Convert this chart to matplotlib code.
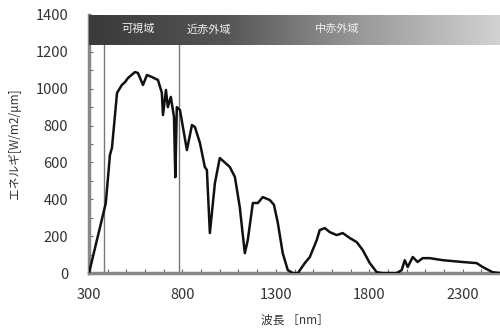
import numpy as np
import matplotlib
matplotlib.use("Agg")
import matplotlib.pyplot as plt
from matplotlib.ticker import MultipleLocator

plt.rcParams['font.family'] = ['Noto Sans CJK JP', 'DejaVu Sans']

# --- Data ---
wavelength = [300, 390, 412, 423, 450, 476, 493, 509, 546, 562, 589, 610, 637,
              669, 690, 696, 712, 722, 738, 755, 762, 766, 770, 787, 824, 851,
              867, 894, 920, 931, 947, 974, 1000, 1054, 1081, 1107, 1134, 1150,
              1177, 1204, 1230, 1268, 1290, 1311, 1337, 1364, 1391, 1418, 1455,
              1482, 1519, 1535, 1562, 1589, 1626, 1658, 1696, 1733, 1765, 1803,
              1840, 1872, 1947, 1974, 1990, 2006, 2033, 2059, 2086, 2123, 2193,
              2300, 2375, 2407, 2460, 2500]
energy = [0, 380, 640, 680, 977, 1020, 1036, 1058, 1090, 1085, 1020, 1074, 1063,
          1047, 977, 857, 993, 900, 955, 846, 520, 700, 900, 884, 667, 803,
          792, 705, 575, 559, 217, 488, 624, 575, 521, 358, 108, 179,
          380, 380, 412, 396, 370, 271, 108, 16, 0, 0, 54,
          87, 179, 233, 244, 222, 206, 217, 190, 168, 125, 54,
          5, 0, 0, 16, 70, 33, 87, 60, 81, 81, 70,
          60, 54, 33, 5, 0]

region_bounds = [380, 780]
region_names = ["可視域", "近赤外域", "中赤外域"]
region_label_x = [562, 942, 1631]

fig = plt.figure(figsize=(5.0, 3.31), dpi=100)
ax = fig.add_axes([0.178, 0.175, 0.822, 0.78])

# gradient band at the top
grad = np.linspace(0, 1, 256).reshape(1, -1)
ax.imshow(grad, extent=[300, 2500, 1235, 1400], aspect='auto',
          cmap=matplotlib.colors.LinearSegmentedColormap.from_list(
              'band', ['#3a3a3a', '#555555', '#9a9a9a', '#d2d2d2']),
          zorder=3)
for x, name in zip(region_label_x, region_names):
    ax.text(x, 1322, name, color='#f0f0f0', fontsize=8, ha='center', va='center', zorder=4)

for b in region_bounds:
    ax.plot([b, b], [0, 1235], color='#777777', lw=1.0, zorder=2)

ax.plot(wavelength, energy, color='#111111', lw=1.8, zorder=4)

ax.set_xlim(300, 2500)
ax.set_ylim(0, 1400)
ax.set_xticks([300, 800, 1300, 1800, 2300])
ax.set_yticks(range(0, 1401, 200))
ax.xaxis.set_minor_locator(MultipleLocator(100))
ax.yaxis.set_minor_locator(MultipleLocator(100))
ax.tick_params(which='both', direction='in', color='#666666', length=3, width=0.8)
ax.tick_params(axis='x', which='major', pad=11, labelsize=10.5, labelcolor='#333333')
ax.tick_params(axis='y', which='major', pad=15, labelsize=10.5, labelcolor='#333333')

for side in ['top', 'right']:
    ax.spines[side].set_visible(False)
for side in ['left', 'bottom']:
    ax.spines[side].set_color('#888888')
    ax.spines[side].set_linewidth(2.5)

ax.set_xlabel("波長 ［nm］", fontsize=8.5, color='#333333', labelpad=8)
ax.set_ylabel("エネルギ[W/m2/μm]", fontsize=8.5, color='#333333', labelpad=10)

fig.savefig("out.png", dpi=100)
